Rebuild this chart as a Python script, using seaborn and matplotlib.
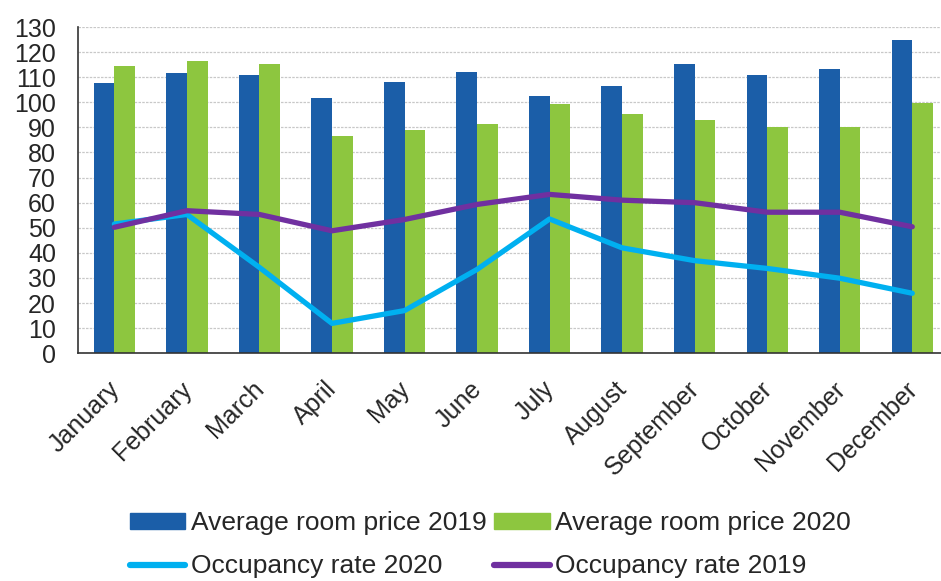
import numpy as np
import pandas as pd
import matplotlib
matplotlib.use("Agg")
import matplotlib.pyplot as plt
import seaborn as sns
from matplotlib.patches import Patch
from matplotlib.lines import Line2D

sns.set_theme(style="white")
plt.rcParams['font.family'] = ['Liberation Sans', 'DejaVu Sans']

months = ["January", "February", "March", "April", "May", "June",
          "July", "August", "September", "October", "November", "December"]
price_2019 = [107.5, 111.5, 110.8, 101.8, 108.1, 112.0,
              102.4, 106.3, 115.3, 110.8, 113.3, 124.8]
price_2020 = [114.5, 116.5, 115.3, 86.4, 89.0, 91.4,
              99.4, 95.4, 92.9, 90.2, 90.2, 99.8]
occ_2020 = [51.5, 55.3, 34.2, 11.9, 17.0, 33.4,
            53.5, 42.0, 36.9, 33.8, 29.9, 23.9]
occ_2019 = [50.2, 56.8, 55.3, 48.8, 53.3, 59.3,
            63.3, 61.0, 60.0, 56.2, 56.2, 50.4]

blue = "#1B5EA8"
green = "#8DC63F"
cyan = "#00B0F0"
purple = "#7030A0"

df = pd.DataFrame({
    "month": months * 2,
    "price": price_2019 + price_2020,
    "series": ["Average room price 2019"] * 12 + ["Average room price 2020"] * 12,
})

fig = plt.figure(figsize=(9.41, 5.81), dpi=100)
ax = fig.add_axes([0.083, 0.392, 0.925, 0.5615])

sns.barplot(data=df, x="month", y="price", hue="series", order=months,
            palette=[blue, green], width=0.57, saturation=1, linewidth=0,
            ax=ax, legend=False, zorder=2)

pos = np.arange(len(months))
sns.lineplot(x=pos, y=occ_2020, color=cyan, linewidth=3.8, ax=ax, zorder=3)
sns.lineplot(x=pos, y=occ_2019, color=purple, linewidth=3.8, ax=ax, zorder=4)

ax.set_ylim(0, 130)
ax.set_yticks(range(0, 131, 10))
ax.set_xlim(-0.5, len(months) - 0.5)
ax.set_xlabel("")
ax.set_ylabel("")
ax.yaxis.grid(True, color="#C8C8C8", linestyle=(0, (2, 1)), linewidth=0.9, zorder=0)
ax.set_axisbelow(True)

# month labels sit a little left of the bar-group centre, like the original
ax.set_xticks(pos - 0.1)
ax.set_xticklabels(months, rotation=45, ha="right", rotation_mode="anchor", fontsize=18)
ax.set_xticks(np.arange(-0.5, len(months), 1.0), minor=True)
ax.tick_params(axis="x", which="major", length=0, pad=17)
ax.tick_params(axis="x", which="minor", length=6, width=1.2, color="#333333", direction="out")
ax.tick_params(axis="y", length=6, width=1.2, color="#333333", direction="out",
               labelsize=18, pad=10)

for s in ["top", "right"]:
    ax.spines[s].set_visible(False)
for s in ["left", "bottom"]:
    ax.spines[s].set_color("#333333")
    ax.spines[s].set_linewidth(1.2)

handles = [
    Patch(color=blue, label="Average room price 2019"),
    Line2D([], [], color=cyan, linewidth=4.5, label="Occupancy rate 2020"),
    Patch(color=green, label="Average room price 2020"),
    Line2D([], [], color=purple, linewidth=4.5, label="Occupancy rate 2019"),
]
fig.legend(handles=handles, ncol=2, loc="center", bbox_to_anchor=(0.521, 0.062),
           frameon=False, fontsize=19, handlelength=2.1, handleheight=0.55,
           handletextpad=0.2, columnspacing=0.3, labelspacing=0.72,
           borderpad=0, borderaxespad=0)

fig.savefig("out.png", dpi=100)
